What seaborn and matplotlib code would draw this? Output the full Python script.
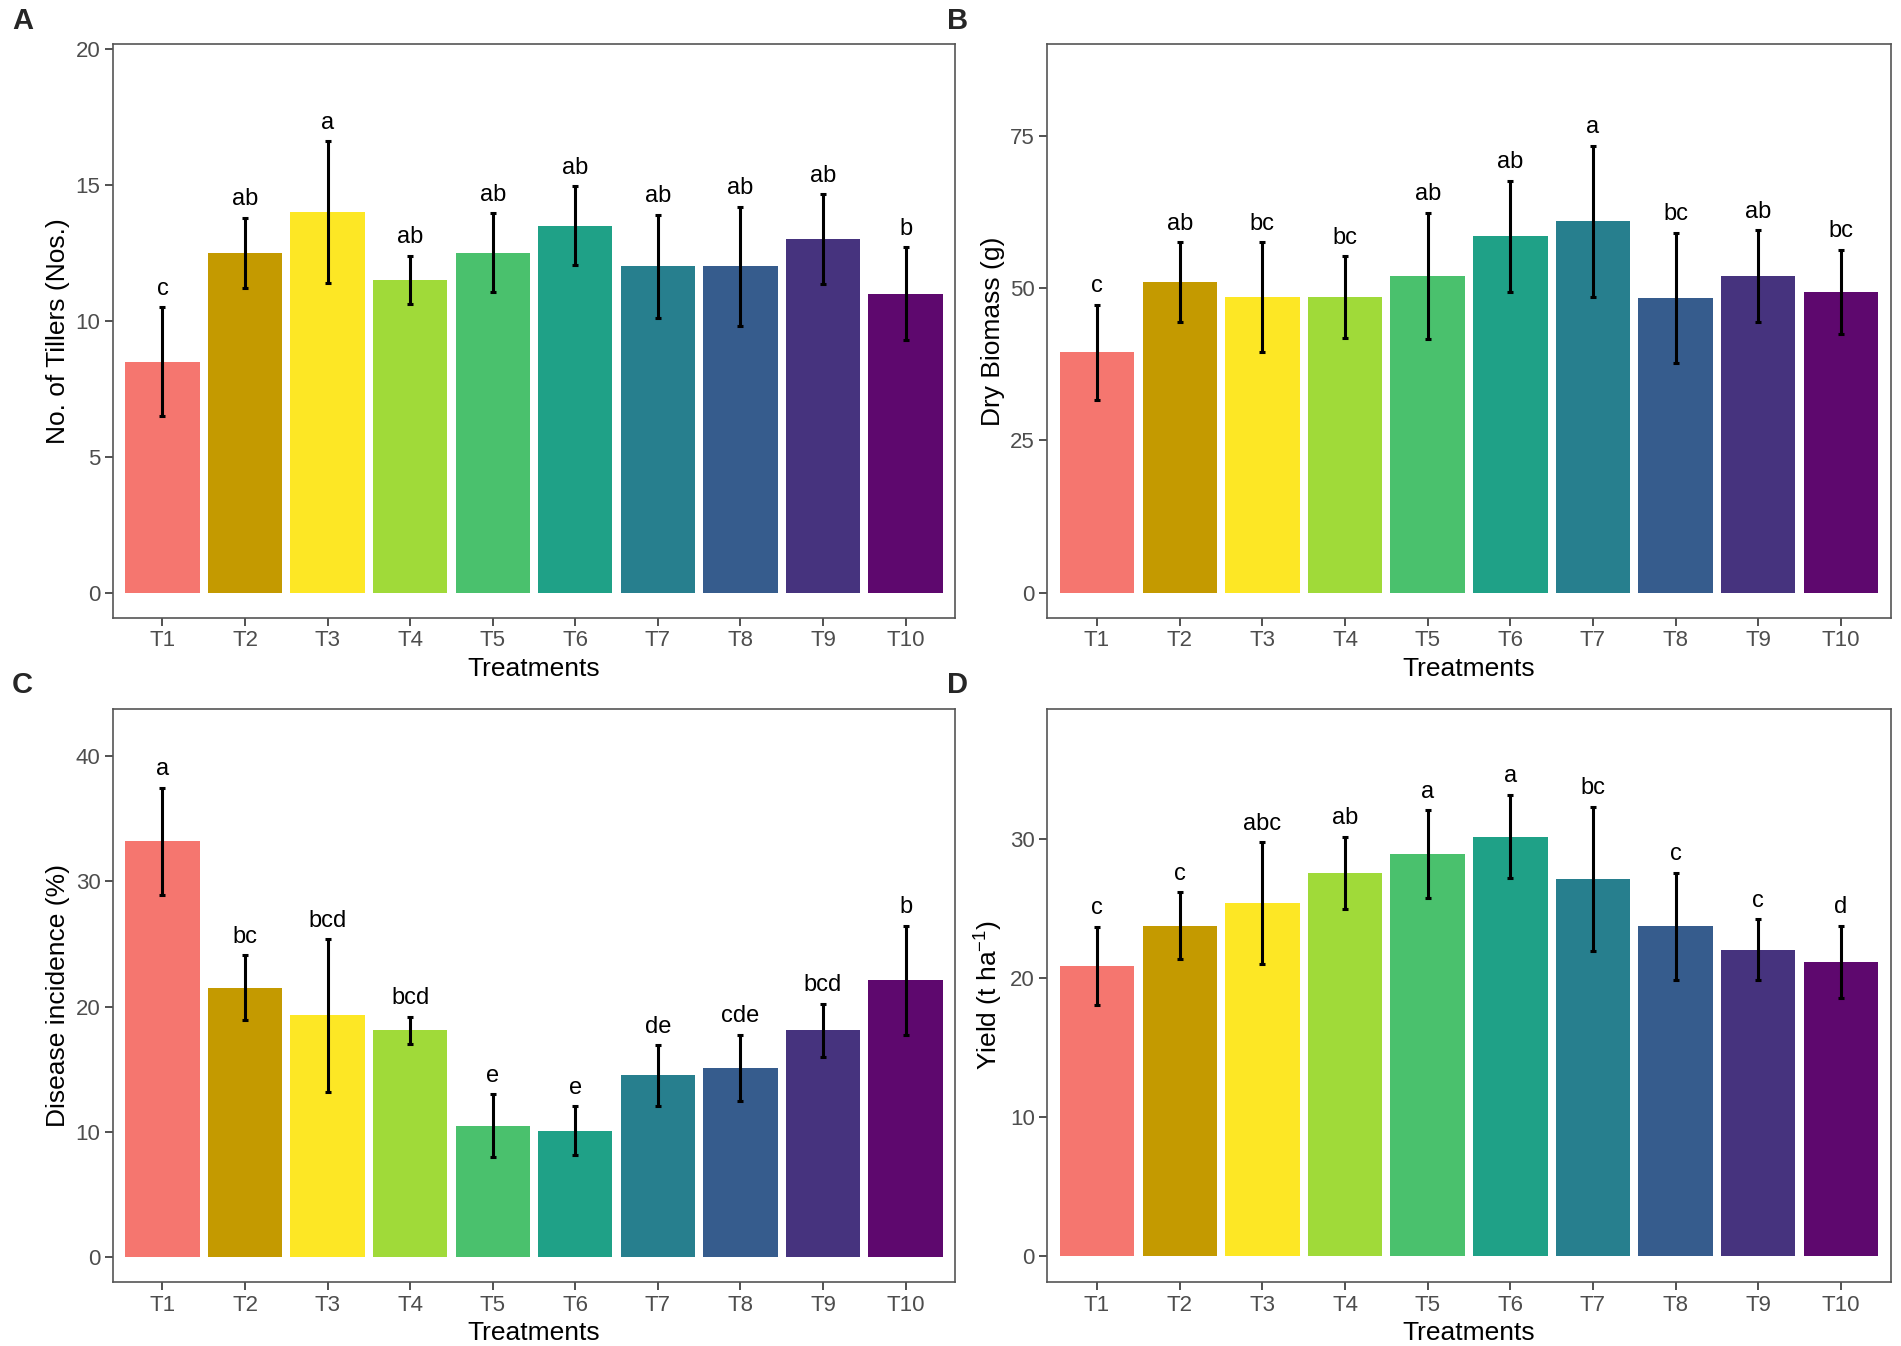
import matplotlib
matplotlib.use("Agg")
from matplotlib import pyplot as plt
import pandas as pd
import seaborn as sns

treatments = ['T1', 'T2', 'T3', 'T4', 'T5', 'T6', 'T7', 'T8', 'T9', 'T10']

tillers = [8.5, 12.5, 14.0, 11.5, 12.5, 13.5, 12.0, 12.0, 13.0, 11.0]
tillers_sd = [2.0, 1.3, 2.6, 0.9, 1.45, 1.45, 1.9, 2.2, 1.65, 1.7]
tillers_grp = ['c', 'ab', 'a', 'ab', 'ab', 'ab', 'ab', 'ab', 'ab', 'b']

biomass = [39.5, 51.0, 48.5, 48.5, 52.0, 58.5, 61.0, 48.4, 52.0, 49.4]
biomass_sd = [7.8, 6.5, 9.0, 6.7, 10.4, 9.1, 12.4, 10.7, 7.5, 6.9]
biomass_grp = ['c', 'ab', 'bc', 'bc', 'ab', 'ab', 'a', 'bc', 'ab', 'bc']

disease = [33.2, 21.5, 19.3, 18.1, 10.5, 10.1, 14.5, 15.1, 18.1, 22.1]
disease_sd = [4.3, 2.6, 6.1, 1.1, 2.5, 1.95, 2.4, 2.65, 2.15, 4.35]
disease_grp = ['a', 'bc', 'bcd', 'bcd', 'e', 'e', 'de', 'cde', 'bcd', 'b']

yields = [20.9, 23.8, 25.4, 27.6, 28.95, 30.2, 27.15, 23.75, 22.05, 21.2]
yields_sd = [2.8, 2.4, 4.4, 2.6, 3.15, 3.0, 5.2, 3.85, 2.2, 2.6]
yields_grp = ['c', 'c', 'abc', 'ab', 'a', 'a', 'bc', 'c', 'c', 'd']

colors = ['#F5766F', '#C49A00', '#FDE725', '#A0DA39', '#4AC16D',
          '#1FA187', '#277F8E', '#365C8D', '#46337E', '#5E086E']

sns.set_style('white')
plt.rcParams['font.family'] = ['Liberation Sans', 'DejaVu Sans']
plt.rcParams['mathtext.fontset'] = 'custom'
plt.rcParams['mathtext.rm'] = 'Liberation Sans'
plt.rcParams['mathtext.it'] = 'Liberation Sans:italic'

fig = plt.figure(figsize=(19.01, 13.46), dpi=100)

panels = [
    ('A', tillers, tillers_sd, tillers_grp, 'No. of Tillers (Nos.)', (-0.93, 20.17), [0, 5, 10, 15, 20],
     [0.0594, 0.541, 0.443, 0.426]),
    ('B', biomass, biomass_sd, biomass_grp, 'Dry Biomass (g)', (-4.1, 90.0), [0, 25, 50, 75],
     [0.551, 0.541, 0.4435, 0.426]),
    ('C', disease, disease_sd, disease_grp, 'Disease incidence (%)', (-2.0, 43.8), [0, 10, 20, 30, 40],
     [0.0594, 0.0475, 0.443, 0.426]),
    ('D', yields, yields_sd, yields_grp, 'Yield (t ha$^{-1}$)', (-1.85, 39.4), [0, 10, 20, 30],
     [0.551, 0.0475, 0.4435, 0.426]),
]

for letter, vals, sds, grps, ylab, ylim, yticks, rect in panels:
    ax = fig.add_axes(rect)
    df = pd.DataFrame({'Treatment': treatments, 'Value': vals, 'SD': sds, 'Group': grps})
    sns.barplot(data=df, x='Treatment', y='Value', hue='Treatment', palette=colors,
                order=treatments, hue_order=treatments, legend=False, errorbar=None,
                width=0.9, linewidth=0, saturation=1, ax=ax)
    ax.errorbar(range(len(treatments)), df['Value'], yerr=df['SD'], fmt='none',
                ecolor='black', elinewidth=2.2, capsize=2, capthick=2.2)
    for i, row in df.iterrows():
        ax.annotate(row['Group'], (i, row['Value'] + row['SD']), xytext=(0, 9),
                    textcoords='offset points', ha='center', va='baseline',
                    fontsize=17, color='black')
    ax.set_xlim(-0.6, 9.6)
    ax.set_ylim(*ylim)
    ax.set_yticks(yticks)
    ax.set_xlabel('Treatments', fontsize=19, color='black', labelpad=4)
    ax.set_ylabel(ylab, fontsize=19, color='black', labelpad=4)
    ax.tick_params(axis='both', labelsize=16, labelcolor='#4D4D4D', color='#333333',
                   length=6, width=1.2, direction='out', bottom=True, left=True, pad=3)
    for sp in ax.spines.values():
        sp.set_visible(True)
        sp.set_color('#555555')
        sp.set_linewidth(1.2)
    pos = ax.get_position()
    fig.text(pos.x0 - 0.053, pos.y1 + 0.028, letter, fontsize=21, fontweight='bold',
             ha='left', va='top')

fig.savefig('out.png', dpi=100)
